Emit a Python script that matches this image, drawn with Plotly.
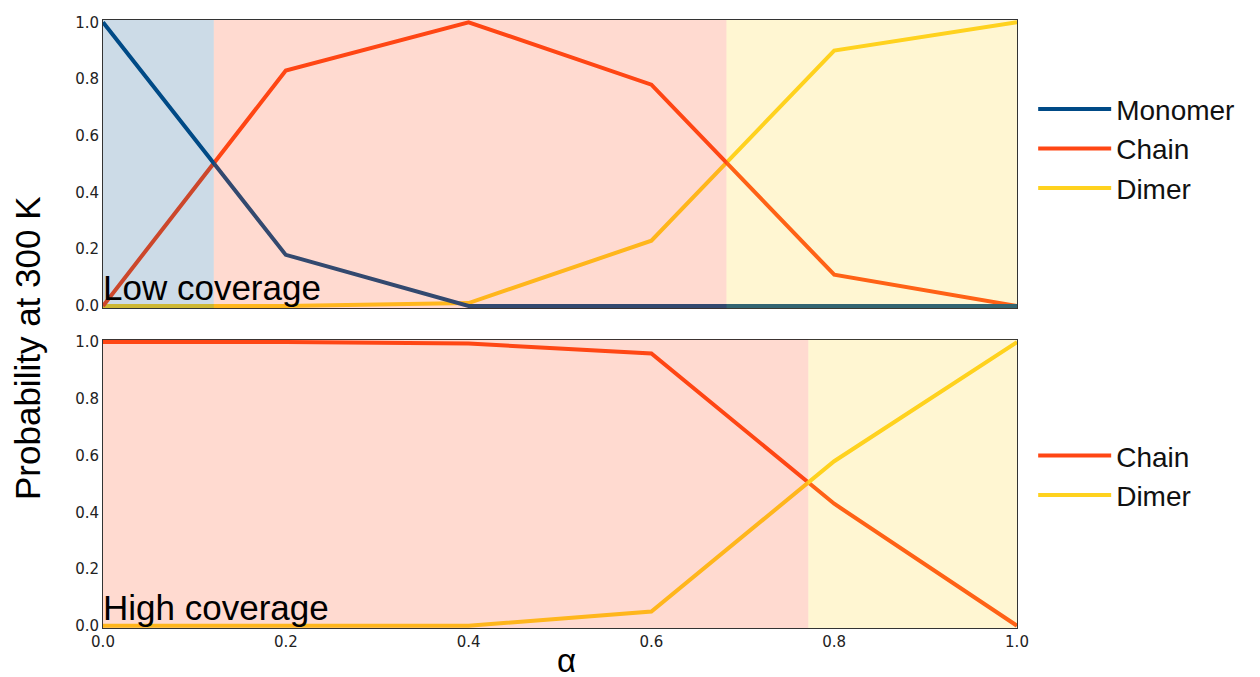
import plotly.graph_objects as go
from plotly.subplots import make_subplots

alpha = [0.0, 0.2, 0.4, 0.6, 0.8, 1.0]
low_monomer = [1.0, 0.18, 0.0, 0.0, 0.0, 0.0]
low_chain = [0.0, 0.83, 1.0, 0.78, 0.11, 0.0]
low_dimer = [0.0, 0.0, 0.01, 0.23, 0.90, 1.0]
high_chain = [1.0, 1.0, 0.995, 0.96, 0.43, 0.0]
high_dimer = [0.0, 0.0, 0.0, 0.05, 0.58, 1.0]
x_ticks = [0.0, 0.2, 0.4, 0.6, 0.8, 1.0]
y_ticks = [0.0, 0.2, 0.4, 0.6, 0.8, 1.0]

C_MON = "#004a86"
C_CHAIN = "#ff4614"
C_DIMER = "#ffd21e"
FONT = "Liberation Sans, Arial, sans-serif"
TICKFONT = "DejaVu Sans, sans-serif"


def crossing(xs, a, b):
    for i in range(len(xs) - 1):
        d0 = a[i] - b[i]
        d1 = a[i + 1] - b[i + 1]
        if d0 * d1 < 0:
            t = d0 / (d0 - d1)
            return xs[i] + t * (xs[i + 1] - xs[i])
    return None


fig = make_subplots(rows=2, cols=1, shared_xaxes=True, vertical_spacing=0.052)

lw = 4
# top panel (drawing order: dimer, chain, monomer on top)
fig.add_trace(go.Scatter(x=alpha, y=low_dimer, mode="lines", name="Dimer",
                         line=dict(color=C_DIMER, width=lw), legend="legend", legendrank=3), row=1, col=1)
fig.add_trace(go.Scatter(x=alpha, y=low_chain, mode="lines", name="Chain",
                         line=dict(color=C_CHAIN, width=lw), legend="legend", legendrank=2), row=1, col=1)
fig.add_trace(go.Scatter(x=alpha, y=low_monomer, mode="lines", name="Monomer",
                         line=dict(color=C_MON, width=lw), legend="legend", legendrank=1), row=1, col=1)
# bottom panel
fig.add_trace(go.Scatter(x=alpha, y=high_chain, mode="lines", name="Chain",
                         line=dict(color=C_CHAIN, width=lw), legend="legend2"), row=2, col=1)
fig.add_trace(go.Scatter(x=alpha, y=high_dimer, mode="lines", name="Dimer",
                         line=dict(color=C_DIMER, width=lw), legend="legend2"), row=2, col=1)

# shaded regions (dominant species)
b1 = crossing(alpha, low_monomer, low_chain)
b2 = crossing(alpha, low_chain, low_dimer)
b3 = crossing(alpha, high_chain, high_dimer)
op = 0.2
for (x0, x1, col) in [(0.0, b1, C_MON), (b1, b2, C_CHAIN), (b2, 1.0, C_DIMER)]:
    fig.add_shape(type="rect", xref="x", yref="y domain", x0=x0, x1=x1, y0=0, y1=1,
                  fillcolor=col, opacity=op, line_width=0, layer="above")
for (x0, x1, col) in [(0.0, b3, C_CHAIN), (b3, 1.0, C_DIMER)]:
    fig.add_shape(type="rect", xref="x2", yref="y2 domain", x0=x0, x1=x1, y0=0, y1=1,
                  fillcolor=col, opacity=op, line_width=0, layer="above")

axis_common = dict(showgrid=False, zeroline=False, showline=True, linecolor="#333",
                   linewidth=1, mirror=True, ticks="", automargin=False,
                   tickfont=dict(family=TICKFONT, size=15, color="#222"))
fig.update_xaxes(range=[0, 1], tickvals=x_ticks, tickformat=".1f", **axis_common)
fig.update_xaxes(showticklabels=False, row=1, col=1)
fig.update_yaxes(range=[-0.008, 1.008], tickvals=y_ticks, tickformat=".1f", **axis_common)

fig.add_annotation(x=0.0, y=0.0, xref="x", yref="y", text="Low coverage", showarrow=False,
                   xanchor="left", yanchor="bottom", yshift=-3, xshift=-2,
                   font=dict(family=FONT, size=35, color="#000"))
fig.add_annotation(x=0.0, y=0.0, xref="x2", yref="y2", text="High coverage", showarrow=False,
                   xanchor="left", yanchor="bottom", yshift=-3, xshift=-2,
                   font=dict(family=FONT, size=35, color="#000"))
fig.add_annotation(x=0.5, y=0, xref="paper", yref="paper", text="α", showarrow=False,
                   xanchor="center", yanchor="middle", yshift=-32, xshift=6, height=30,
                   font=dict(family=FONT, size=33, color="#000"))
fig.add_annotation(x=0, y=0.5, xref="paper", yref="paper", text="Probability at 300 K",
                   showarrow=False, textangle=-90, xanchor="center", yanchor="middle",
                   xshift=-76, yshift=-24, font=dict(family=FONT, size=35, color="#000"))

legend_common = dict(font=dict(family=FONT, size=28, color="#111"), bgcolor="rgba(0,0,0,0)",
                     itemwidth=73, tracegroupgap=0, xanchor="left", yanchor="middle")
fig.update_layout(
    width=1252, height=669,
    paper_bgcolor="white", plot_bgcolor="white",
    margin=dict(l=95, r=243, t=12, b=49),
    showlegend=True,
    legend=dict(x=1.0177, y=0.788, **legend_common),
    legend2=dict(x=1.0177, y=0.251, **legend_common),
)

fig.write_html("out.html")
